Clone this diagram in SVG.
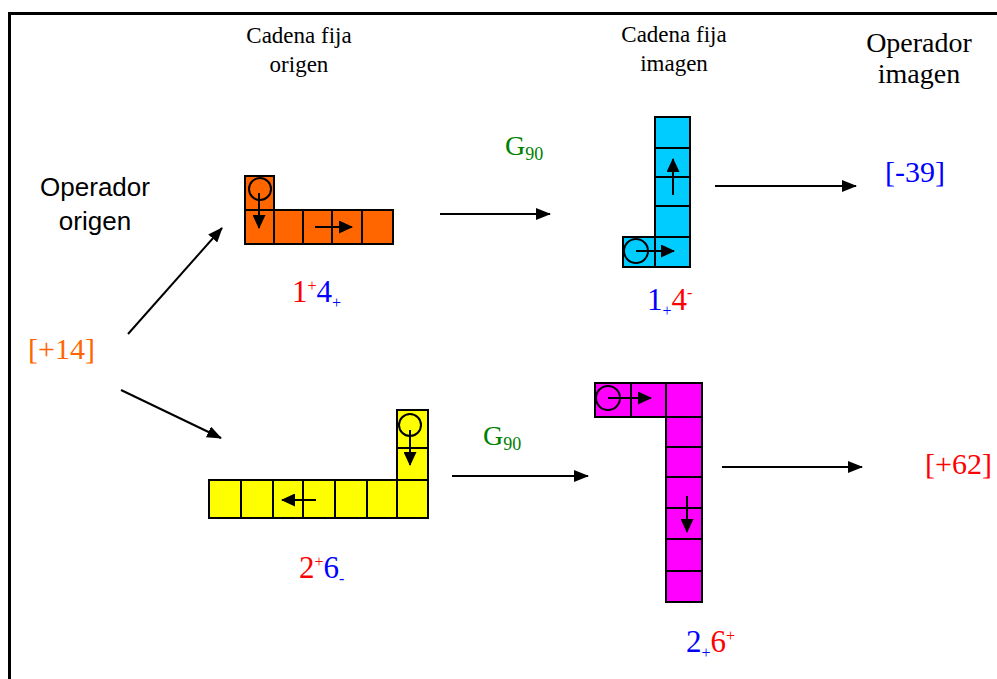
<svg xmlns="http://www.w3.org/2000/svg" width="997" height="679" viewBox="0 0 997 679">
<defs>
<marker id="ah" markerWidth="15" markerHeight="12" refX="14" refY="6" orient="auto" markerUnits="userSpaceOnUse">
<path d="M0,0 L15,6 L0,12 Z" fill="#000"/>
</marker>
<marker id="sh" markerWidth="14" markerHeight="13" refX="13" refY="6.5" orient="auto" markerUnits="userSpaceOnUse">
<path d="M0,0 L14,6.5 L0,13 Z" fill="#000"/>
</marker>
</defs>
<style>
.c{stroke:#000;stroke-width:2}
.o{fill:#FF6600}.b{fill:#00CCFF}.y{fill:#FFFF00}.m{fill:#FF00FF}
.ring{fill:none;stroke:#000;stroke-width:2}
.sa{stroke:#000;stroke-width:2;fill:none;marker-end:url(#sh)}
.la{stroke:#000;stroke-width:2;fill:none;marker-end:url(#ah)}
.t{font-family:"Liberation Serif","Times New Roman",serif}
.s{font-family:"Liberation Sans",Arial,sans-serif}
.red{fill:#FF0000}.blu{fill:#0000FF}.grn{fill:#008000}.org{fill:#FF6600}
</style>
<rect x="9.5" y="13.5" width="1000" height="700" fill="none" stroke="#000" stroke-width="3"/>

<g id="title-origen" class="t" font-size="23" text-anchor="middle">
<text x="299" y="43">Cadena fija</text>
<text x="299" y="72">origen</text>
</g>
<g id="title-imagen" class="t" font-size="23" text-anchor="middle">
<text x="674" y="42">Cadena fija</text>
<text x="674" y="71">imagen</text>
</g>
<g id="operador-imagen" class="t" font-size="28" text-anchor="middle">
<text x="919" y="52">Operador</text>
<text x="919" y="83">imagen</text>
</g>
<g id="operador-origen" class="s" font-size="26" text-anchor="middle">
<text x="95" y="196">Operador</text>
<text x="95" y="230">origen</text>
</g>

<g id="op14"><text class="t org" x="28" y="359" font-size="30">[+14]</text></g>
<g id="op39"><text class="t blu" x="885" y="182" font-size="30">[-39]</text></g>
<g id="op62"><text class="t red" x="925" y="474" font-size="30">[+62]</text></g>

<g id="g90a"><text class="t grn" x="505" y="155" font-size="28">G<tspan font-size="18" dy="5">90</tspan></text></g>
<g id="g90b"><text class="t grn" x="483" y="445" font-size="28">G<tspan font-size="18" dy="5">90</tspan></text></g>

<g id="lbl-orange"><text class="t" x="292" y="302" font-size="31"><tspan class="red">1</tspan><tspan class="red" font-size="16" dy="-11">+</tspan><tspan class="blu" dy="11">4</tspan><tspan class="blu" font-size="16" dy="6">+</tspan></text></g>
<g id="lbl-blue"><text class="t" x="647" y="310" font-size="31"><tspan class="blu">1</tspan><tspan class="blu" font-size="16" dy="6">+</tspan><tspan class="red" dy="-6">4</tspan><tspan class="red" font-size="16" dy="-12">-</tspan></text></g>
<g id="lbl-yellow"><text class="t" x="299" y="578" font-size="31"><tspan class="red">2</tspan><tspan class="red" font-size="16" dy="-11">+</tspan><tspan class="blu" dy="11">6</tspan><tspan class="blu" font-size="16" dy="6">-</tspan></text></g>
<g id="lbl-magenta"><text class="t" x="686" y="652" font-size="31"><tspan class="blu">2</tspan><tspan class="blu" font-size="16" dy="6">+</tspan><tspan class="red" dy="-6">6</tspan><tspan class="red" font-size="16" dy="-11">+</tspan></text></g>

<g id="chain-orange">
<rect class="c o" x="245" y="176" width="29" height="34"/>
<rect class="c o" x="245" y="210" width="29" height="34"/>
<rect class="c o" x="274" y="210" width="29" height="34"/>
<rect class="c o" x="303" y="210" width="29" height="34"/>
<rect class="c o" x="332" y="210" width="30" height="34"/>
<rect class="c o" x="362" y="210" width="31" height="34"/>
<circle class="ring" cx="260" cy="189" r="11"/>
<line class="sa" x1="259" y1="193" x2="259" y2="228"/>
<line class="sa" x1="315" y1="227" x2="352" y2="227"/>
</g>

<g id="chain-blue">
<rect class="c b" x="655" y="117" width="35" height="31"/>
<rect class="c b" x="655" y="148" width="35" height="29"/>
<rect class="c b" x="655" y="177" width="35" height="29"/>
<rect class="c b" x="655" y="206" width="35" height="31"/>
<rect class="c b" x="655" y="237" width="35" height="30"/>
<rect class="c b" x="623" y="237" width="32" height="30"/>
<circle class="ring" cx="636" cy="251" r="12"/>
<line class="sa" x1="636" y1="251" x2="674" y2="251"/>
<line class="sa" x1="673" y1="195" x2="673" y2="159"/>
</g>

<g id="chain-yellow">
<rect class="c y" x="397" y="410" width="31" height="38"/>
<rect class="c y" x="397" y="448" width="31" height="32"/>
<rect class="c y" x="209" y="480" width="32" height="38"/>
<rect class="c y" x="241" y="480" width="32" height="38"/>
<rect class="c y" x="273" y="480" width="30" height="38"/>
<rect class="c y" x="303" y="480" width="32" height="38"/>
<rect class="c y" x="335" y="480" width="32" height="38"/>
<rect class="c y" x="367" y="480" width="30" height="38"/>
<rect class="c y" x="397" y="480" width="31" height="38"/>
<circle class="ring" cx="410" cy="425" r="11"/>
<line class="sa" x1="410" y1="430" x2="410" y2="465"/>
<line class="sa" x1="316" y1="500" x2="282" y2="500"/>
</g>

<g id="chain-magenta">
<rect class="c m" x="595" y="383" width="36" height="34"/>
<rect class="c m" x="631" y="383" width="35" height="34"/>
<rect class="c m" x="666" y="383" width="36" height="34"/>
<rect class="c m" x="666" y="417" width="36" height="30"/>
<rect class="c m" x="666" y="447" width="36" height="30"/>
<rect class="c m" x="666" y="477" width="36" height="31"/>
<rect class="c m" x="666" y="508" width="36" height="31"/>
<rect class="c m" x="666" y="539" width="36" height="32"/>
<rect class="c m" x="666" y="571" width="36" height="31"/>
<circle class="ring" cx="608" cy="398" r="12"/>
<line class="sa" x1="608" y1="398" x2="651" y2="398"/>
<line class="sa" x1="687" y1="496" x2="687" y2="532"/>
</g>

<g id="connectors">
<line class="la" x1="128" y1="334" x2="222" y2="228"/>
<line class="la" x1="121" y1="390" x2="221" y2="438"/>
<line class="la" x1="440" y1="214" x2="550" y2="214"/>
<line class="la" x1="715" y1="186" x2="856" y2="186"/>
<line class="la" x1="452" y1="476" x2="588" y2="476"/>
<line class="la" x1="722" y1="467" x2="862" y2="467"/>
</g>
</svg>
